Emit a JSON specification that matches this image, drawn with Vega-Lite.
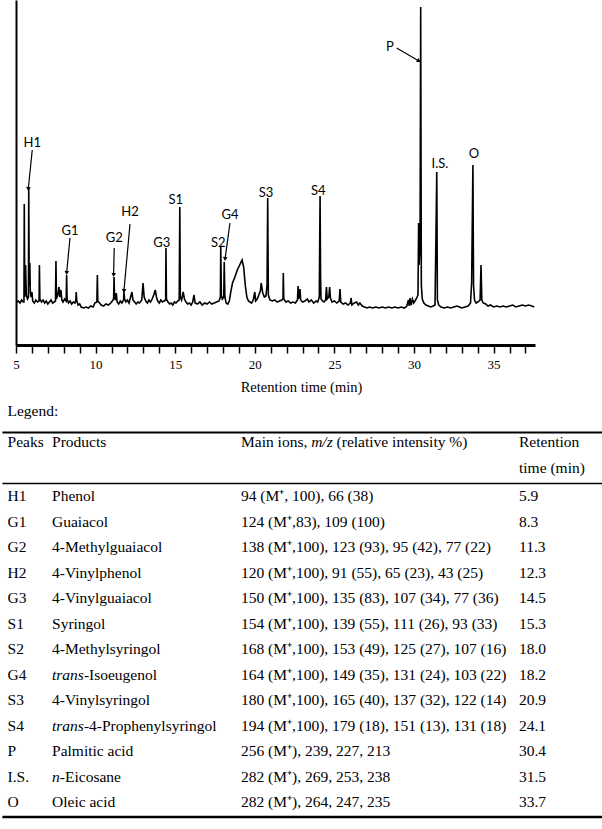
{
  "$schema": "https://vega.github.io/schema/vega-lite/v6.json",
  "padding": 0,
  "spacing": 9,
  "bounds": "full",
  "config": {"view": {"stroke": null}},
  "datasets": {
    "trace": [
      {"t":5.05,"v":3},{"t":5.15,"v":4},{"t":5.25,"v":2},{"t":5.35,"v":5},{"t":5.45,"v":3},{"t":5.50,"v":3},{"t":5.52,"v":101},{"t":5.55,"v":8},{"t":5.60,"v":40},{"t":5.65,"v":10},{"t":5.72,"v":6},{"t":5.78,"v":8},{"t":5.80,"v":117},{"t":5.83,"v":20},{"t":5.87,"v":42},{"t":5.90,"v":12},{"t":5.95,"v":8},{"t":6.00,"v":13},{"t":6.05,"v":4},{"t":6.15,"v":2},{"t":6.25,"v":5},{"t":6.35,"v":3},{"t":6.45,"v":4},{"t":6.47,"v":40},{"t":6.50,"v":6},{"t":6.60,"v":3},{"t":6.70,"v":5},{"t":6.80,"v":2},{"t":6.90,"v":4},{"t":7.00,"v":1},{"t":7.10,"v":3},{"t":7.20,"v":5},{"t":7.30,"v":2},{"t":7.40,"v":3},{"t":7.48,"v":4},{"t":7.51,"v":44},{"t":7.54,"v":6},{"t":7.62,"v":10},{"t":7.70,"v":18},{"t":7.75,"v":8},{"t":7.82,"v":15},{"t":7.88,"v":5},{"t":7.95,"v":3},{"t":8.05,"v":6},{"t":8.15,"v":4},{"t":8.18,"v":30},{"t":8.21,"v":6},{"t":8.30,"v":2},{"t":8.40,"v":4},{"t":8.50,"v":1},{"t":8.60,"v":3},{"t":8.70,"v":2},{"t":8.76,"v":5},{"t":8.78,"v":13},{"t":8.82,"v":4},{"t":8.90,"v":0},{"t":9.00,"v":1},{"t":9.10,"v":-2},{"t":9.25,"v":-3},{"t":9.40,"v":-2},{"t":9.55,"v":-3},{"t":9.70,"v":-1},{"t":9.85,"v":-2},{"t":9.95,"v":2},{"t":10.08,"v":3},{"t":10.11,"v":30},{"t":10.14,"v":4},{"t":10.25,"v":2},{"t":10.35,"v":0},{"t":10.50,"v":-1},{"t":10.65,"v":1},{"t":10.80,"v":0},{"t":10.95,"v":2},{"t":11.05,"v":4},{"t":11.13,"v":6},{"t":11.16,"v":28},{"t":11.19,"v":8},{"t":11.25,"v":5},{"t":11.30,"v":12},{"t":11.35,"v":3},{"t":11.45,"v":1},{"t":11.55,"v":4},{"t":11.65,"v":2},{"t":11.76,"v":5},{"t":11.78,"v":13},{"t":11.82,"v":6},{"t":11.90,"v":3},{"t":12.00,"v":5},{"t":12.10,"v":2},{"t":12.20,"v":8},{"t":12.28,"v":13},{"t":12.35,"v":5},{"t":12.45,"v":3},{"t":12.55,"v":1},{"t":12.65,"v":3},{"t":12.75,"v":2},{"t":12.90,"v":5},{"t":12.98,"v":22},{"t":13.05,"v":8},{"t":13.15,"v":4},{"t":13.25,"v":2},{"t":13.35,"v":5},{"t":13.45,"v":3},{"t":13.55,"v":6},{"t":13.65,"v":10},{"t":13.75,"v":15},{"t":13.82,"v":8},{"t":13.90,"v":4},{"t":14.00,"v":2},{"t":14.10,"v":5},{"t":14.20,"v":3},{"t":14.30,"v":4},{"t":14.40,"v":5},{"t":14.42,"v":57},{"t":14.45,"v":6},{"t":14.55,"v":3},{"t":14.65,"v":1},{"t":14.75,"v":2},{"t":14.85,"v":0},{"t":14.95,"v":3},{"t":15.05,"v":2},{"t":15.15,"v":4},{"t":15.25,"v":5},{"t":15.29,"v":98},{"t":15.32,"v":8},{"t":15.40,"v":5},{"t":15.50,"v":13},{"t":15.58,"v":6},{"t":15.68,"v":3},{"t":15.78,"v":1},{"t":15.90,"v":2},{"t":16.00,"v":0},{"t":16.10,"v":3},{"t":16.18,"v":10},{"t":16.25,"v":2},{"t":16.40,"v":1},{"t":16.55,"v":3},{"t":16.70,"v":0},{"t":16.85,"v":2},{"t":17.00,"v":1},{"t":17.15,"v":3},{"t":17.30,"v":1},{"t":17.45,"v":2},{"t":17.60,"v":3},{"t":17.75,"v":4},{"t":17.84,"v":8},{"t":17.86,"v":58},{"t":17.90,"v":10},{"t":17.96,"v":6},{"t":18.05,"v":8},{"t":18.08,"v":43},{"t":18.12,"v":8},{"t":18.20,"v":2},{"t":18.30,"v":1},{"t":18.40,"v":4},{"t":18.50,"v":14},{"t":18.60,"v":22},{"t":18.75,"v":28},{"t":18.90,"v":35},{"t":19.05,"v":40},{"t":19.20,"v":45},{"t":19.30,"v":38},{"t":19.40,"v":20},{"t":19.50,"v":8},{"t":19.60,"v":4},{"t":19.70,"v":3},{"t":19.80,"v":2},{"t":19.90,"v":5},{"t":20.00,"v":13},{"t":20.05,"v":4},{"t":20.15,"v":6},{"t":20.25,"v":10},{"t":20.35,"v":14},{"t":20.40,"v":22},{"t":20.50,"v":12},{"t":20.60,"v":8},{"t":20.70,"v":9},{"t":20.77,"v":20},{"t":20.81,"v":107},{"t":20.85,"v":10},{"t":20.95,"v":5},{"t":21.10,"v":4},{"t":21.25,"v":5},{"t":21.40,"v":3},{"t":21.55,"v":4},{"t":21.70,"v":5},{"t":21.77,"v":6},{"t":21.79,"v":32},{"t":21.82,"v":6},{"t":21.95,"v":3},{"t":22.10,"v":4},{"t":22.25,"v":2},{"t":22.40,"v":3},{"t":22.55,"v":2},{"t":22.68,"v":5},{"t":22.72,"v":19},{"t":22.76,"v":6},{"t":22.84,"v":16},{"t":22.88,"v":5},{"t":23.00,"v":3},{"t":23.15,"v":4},{"t":23.30,"v":6},{"t":23.40,"v":3},{"t":23.55,"v":5},{"t":23.70,"v":2},{"t":23.85,"v":4},{"t":23.95,"v":3},{"t":24.05,"v":8},{"t":24.10,"v":109},{"t":24.13,"v":30},{"t":24.16,"v":6},{"t":24.25,"v":4},{"t":24.35,"v":3},{"t":24.45,"v":5},{"t":24.50,"v":18},{"t":24.55,"v":6},{"t":24.65,"v":8},{"t":24.70,"v":18},{"t":24.75,"v":7},{"t":24.85,"v":3},{"t":25.00,"v":4},{"t":25.15,"v":2},{"t":25.30,"v":4},{"t":25.35,"v":16},{"t":25.40,"v":3},{"t":25.55,"v":1},{"t":25.70,"v":2},{"t":25.85,"v":0},{"t":26.00,"v":2},{"t":26.05,"v":7},{"t":26.10,"v":0},{"t":26.25,"v":2},{"t":26.40,"v":3},{"t":26.50,"v":0},{"t":26.60,"v":2},{"t":26.75,"v":-1},{"t":26.90,"v":-2},{"t":27.05,"v":-3},{"t":27.20,"v":-2},{"t":27.40,"v":-3},{"t":27.60,"v":-2},{"t":27.80,"v":-3},{"t":28.00,"v":-2},{"t":28.20,"v":-3},{"t":28.40,"v":-2},{"t":28.60,"v":-3},{"t":28.80,"v":-2},{"t":29.00,"v":-3},{"t":29.20,"v":-2},{"t":29.40,"v":-3},{"t":29.55,"v":-1},{"t":29.65,"v":5},{"t":29.70,"v":-1},{"t":29.75,"v":7},{"t":29.82,"v":0},{"t":29.90,"v":6},{"t":29.98,"v":2},{"t":30.10,"v":5},{"t":30.25,"v":10},{"t":30.29,"v":82},{"t":30.32,"v":40},{"t":30.38,"v":60},{"t":30.42,"v":298},{"t":30.46,"v":20},{"t":30.52,"v":6},{"t":30.62,"v":2},{"t":30.75,"v":0},{"t":30.90,"v":-1},{"t":31.05,"v":-2},{"t":31.20,"v":-1},{"t":31.32,"v":0},{"t":31.38,"v":70},{"t":31.43,"v":133},{"t":31.47,"v":5},{"t":31.55,"v":0},{"t":31.70,"v":-2},{"t":31.90,"v":-3},{"t":32.10,"v":-2},{"t":32.30,"v":-3},{"t":32.50,"v":-2},{"t":32.70,"v":-1},{"t":32.85,"v":-2},{"t":33.00,"v":-3},{"t":33.20,"v":-2},{"t":33.40,"v":-1},{"t":33.55,"v":2},{"t":33.62,"v":22},{"t":33.70,"v":140},{"t":33.74,"v":20},{"t":33.80,"v":5},{"t":33.90,"v":2},{"t":34.00,"v":3},{"t":34.15,"v":5},{"t":34.21,"v":40},{"t":34.26,"v":5},{"t":34.35,"v":2},{"t":34.50,"v":1},{"t":34.65,"v":-1},{"t":34.80,"v":0},{"t":35.00,"v":-2},{"t":35.20,"v":-1},{"t":35.40,"v":-2},{"t":35.60,"v":-1},{"t":35.80,"v":-2},{"t":36.00,"v":-1},{"t":36.20,"v":0},{"t":36.40,"v":-2},{"t":36.60,"v":-1},{"t":36.80,"v":0},{"t":37.00,"v":-1},{"t":37.20,"v":0},{"t":37.40,"v":-1},{"t":37.55,"v":-2}
    ],
    "labels": [
      {"label":"H1","t":6.02,"v":162},{"label":"G1","t":8.39,"v":74},{"label":"G2","t":11.17,"v":67},{"label":"H2","t":12.16,"v":93},{"label":"G3","t":14.15,"v":62},{"label":"S1","t":15.03,"v":105},{"label":"S2","t":17.71,"v":62},{"label":"G4","t":18.44,"v":90},{"label":"S3","t":20.70,"v":112},{"label":"S4","t":23.99,"v":114},{"label":"P","t":28.49,"v":258},{"label":"I.S.","t":31.63,"v":141},{"label":"O","t":33.77,"v":151}
    ],
    "arrows": [
      {"label":"H1","t":6.02,"v":155,"t2":5.77,"v2":116},{"label":"G1","t":8.39,"v":67,"t2":8.18,"v2":32},{"label":"G2","t":11.17,"v":57,"t2":11.13,"v2":30},{"label":"H2","t":12.16,"v":81,"t2":11.78,"v2":14},{"label":"G4","t":18.44,"v":82,"t2":18.13,"v2":46},{"label":"P","t":28.91,"v":257,"t2":30.31,"v2":244}
    ],
    "table": [
      {"peak":"H1","prefix":"","product":"Phenol","ions":"94 (M⁺, 100), 66 (38)","rt":5.9},
      {"peak":"G1","prefix":"","product":"Guaiacol","ions":"124 (M⁺,83), 109 (100)","rt":8.3},
      {"peak":"G2","prefix":"","product":"4-Methylguaiacol","ions":"138 (M⁺,100), 123 (93), 95 (42), 77 (22)","rt":11.3},
      {"peak":"H2","prefix":"","product":"4-Vinylphenol","ions":"120 (M⁺,100), 91 (55), 65 (23), 43 (25)","rt":12.3},
      {"peak":"G3","prefix":"","product":"4-Vinylguaiacol","ions":"150 (M⁺,100), 135 (83), 107 (34), 77 (36)","rt":14.5},
      {"peak":"S1","prefix":"","product":"Syringol","ions":"154 (M⁺,100), 139 (55), 111 (26), 93 (33)","rt":15.3},
      {"peak":"S2","prefix":"","product":"4-Methylsyringol","ions":"168 (M⁺,100), 153 (49), 125 (27), 107 (16)","rt":18.0},
      {"peak":"G4","prefix":"trans-","product":"Isoeugenol","ions":"164 (M⁺,100), 149 (35), 131 (24), 103 (22)","rt":18.2},
      {"peak":"S3","prefix":"","product":"4-Vinylsyringol","ions":"180 (M⁺,100), 165 (40), 137 (32), 122 (14)","rt":20.9},
      {"peak":"S4","prefix":"trans-","product":"4-Prophenylsyringol","ions":"194 (M⁺,100), 179 (18), 151 (13), 131 (18)","rt":24.1},
      {"peak":"P","prefix":"","product":"Palmitic acid","ions":"256 (M⁺), 239, 227, 213","rt":30.4},
      {"peak":"I.S.","prefix":"n-","product":"Eicosane","ions":"282 (M⁺), 269, 253, 238","rt":31.5},
      {"peak":"O","prefix":"","product":"Oleic acid","ions":"282 (M⁺), 264, 247, 235","rt":33.7}
    ]
  },
  "vconcat": [
    {
      "width": 519,
      "height": 345,
      "encoding": {
        "x": {"field": "t", "type": "quantitative",
          "scale": {"domain": [5, 37.6], "nice": false, "zero": false},
          "axis": {"values": [5,6,7,8,9,10,11,12,13,14,15,16,17,18,19,20,21,22,23,24,25,26,27,28,29,30,31,32,33,34,35,36,37],
            "labelExpr": "datum.value % 5 === 0 ? datum.label : ''",
            "grid": false, "domainColor": "black", "domainWidth": 3, "tickColor": "black", "tickWidth": 1.5, "tickSize": 8,
            "labelFont": "Liberation Serif", "labelFontSize": 13, "labelColor": "black", "labelPadding": 5, "labelFlush": false, "labelOverlap": false,
            "title": "Retention time (min)", "titleFont": "Liberation Serif", "titleFontSize": 14.5, "titleFontWeight": "normal", "titleColor": "black",
            "titleX": 285, "titleY": 46, "titleBaseline": "alphabetic"}},
        "y": {"field": "v", "type": "quantitative",
          "scale": {"domain": [-40, 305], "nice": false, "zero": false},
          "axis": {"domain": true, "domainColor": "black", "domainWidth": 2, "ticks": false, "labels": false, "grid": false, "title": null, "minExtent": 16, "maxExtent": 16}}
      },
      "layer": [
        {"data": {"name": "trace"}, "mark": {"type": "line", "color": "black", "strokeWidth": 1.6}},
        {"data": {"name": "labels"}, "mark": {"type": "text", "font": "Lato", "fontSize": 13, "color": "black", "align": "center", "baseline": "middle"}, "encoding": {"text": {"field": "label"}}},
        {"data": {"name": "arrows"}, "mark": {"type": "rule", "color": "black", "strokeWidth": 1.2}, "encoding": {"x2": {"field": "t2"}, "y2": {"field": "v2"}}},
        {"data": {"name": "arrows"}, "transform": [{"filter": "datum.label !== 'P'"}], "mark": {"type": "point", "shape": "triangle-down", "filled": true, "color": "black", "size": 22, "opacity": 1, "angle": 6}, "encoding": {"x": {"field": "t2", "type": "quantitative"}, "y": {"field": "v2", "type": "quantitative"}}},
        {"data": {"name": "arrows"}, "transform": [{"filter": "datum.label === 'P'"}], "mark": {"type": "point", "shape": "triangle-down", "filled": true, "color": "black", "size": 22, "opacity": 1, "angle": -60}, "encoding": {"x": {"field": "t2", "type": "quantitative"}, "y": {"field": "v2", "type": "quantitative"}}}
      ]
    },
    {
      "width": 586,
      "height": 408,
      "data": {"name": "table"},
      "encoding": {
        "y": {"field": "peak", "type": "nominal", "axis": null,
          "scale": {"type": "band", "paddingInner": 0, "paddingOuter": 0,
            "domain": ["legend", "h1", "h2", "H1", "G1", "G2", "H2", "G3", "S1", "S2", "G4", "S3", "S4", "P", "I.S.", "O"]}}
      },
      "layer": [
        {"data": {"values": [{}]}, "mark": {"type": "rule", "color": "black", "strokeWidth": 2}, "encoding": {"x": {"datum": 0.4, "scale": {"domain": [0, 100], "range": [-16, 586], "nice": false, "zero": false}, "axis": null}, "x2": {"datum": 100}, "y": {"datum": "h1", "bandPosition": 0}}},
        {"data": {"values": [{}]}, "mark": {"type": "rule", "color": "black", "strokeWidth": 1.6}, "encoding": {"x": {"datum": 0.4, "axis": null}, "x2": {"datum": 100}, "y": {"datum": "H1", "bandPosition": 0}}},
        {"data": {"values": [{}]}, "mark": {"type": "rule", "color": "black", "strokeWidth": 2.5, "yOffset": 2}, "encoding": {"x": {"datum": 0.4, "axis": null}, "x2": {"datum": 100}, "y": {"datum": "O", "bandPosition": 1}}},
        {"data": {"values": [{}]}, "mark": {"type": "text", "text": "Legend:", "font": "Liberation Serif", "fontSize": 15.5, "color": "black", "align": "left", "baseline": "middle", "dy": -9}, "encoding": {"x": {"datum": 1.25, "axis": null}, "y": {"datum": "legend"}}},
        {"data": {"values": [{}]}, "mark": {"type": "text", "text": "Peaks", "font": "Liberation Serif", "fontSize": 15.5, "color": "black", "align": "left", "baseline": "middle", "dy": -3.5}, "encoding": {"x": {"datum": 1.25, "axis": null}, "y": {"datum": "h1"}}},
        {"data": {"values": [{}]}, "mark": {"type": "text", "text": "Products", "font": "Liberation Serif", "fontSize": 15.5, "color": "black", "align": "left", "baseline": "middle", "dy": -3.5}, "encoding": {"x": {"datum": 8.64, "axis": null}, "y": {"datum": "h1"}}},
        {"data": {"values": [{}]}, "mark": {"type": "text", "text": "Main ions,", "font": "Liberation Serif", "fontSize": 15.5, "color": "black", "align": "left", "baseline": "middle", "dy": -3.5}, "encoding": {"x": {"datum": 40.03, "axis": null}, "y": {"datum": "h1"}}},
        {"data": {"values": [{}]}, "mark": {"type": "text", "text": "m/z", "font": "Liberation Serif", "fontStyle": "italic", "fontSize": 15.5, "color": "black", "align": "left", "baseline": "middle", "dy": -3.5, "dx": 70.2}, "encoding": {"x": {"datum": 40.03, "axis": null}, "y": {"datum": "h1"}}},
        {"data": {"values": [{}]}, "mark": {"type": "text", "text": "(relative intensity %)", "font": "Liberation Serif", "fontSize": 15.5, "color": "black", "align": "left", "baseline": "middle", "dy": -3.5, "dx": 95.6}, "encoding": {"x": {"datum": 40.03, "axis": null}, "y": {"datum": "h1"}}},
        {"data": {"values": [{}]}, "mark": {"type": "text", "text": "Retention", "font": "Liberation Serif", "fontSize": 15.5, "color": "black", "align": "left", "baseline": "middle", "dy": -3.5}, "encoding": {"x": {"datum": 86.21, "axis": null}, "y": {"datum": "h1"}}},
        {"data": {"values": [{}]}, "mark": {"type": "text", "text": "time (min)", "font": "Liberation Serif", "fontSize": 15.5, "color": "black", "align": "left", "baseline": "middle", "dy": -3}, "encoding": {"x": {"datum": 86.21, "axis": null}, "y": {"datum": "h2"}}},
        {"mark": {"type": "text", "font": "Liberation Serif", "fontSize": 15.5, "color": "black", "align": "left", "baseline": "middle"}, "encoding": {"x": {"datum": 1.25, "axis": null}, "text": {"field": "peak"}}},
        {"transform": [{"filter": "datum.prefix === ''"}], "mark": {"type": "text", "font": "Liberation Serif", "fontSize": 15.5, "color": "black", "align": "left", "baseline": "middle"}, "encoding": {"x": {"datum": 8.64, "axis": null}, "text": {"field": "product"}}},
        {"transform": [{"filter": "datum.prefix !== ''"}], "mark": {"type": "text", "font": "Liberation Serif", "fontStyle": "italic", "fontSize": 15.5, "color": "black", "align": "left", "baseline": "middle"}, "encoding": {"x": {"datum": 8.64, "axis": null}, "text": {"field": "prefix"}}},
        {"transform": [{"filter": "datum.prefix === 'trans-'"}], "mark": {"type": "text", "font": "Liberation Serif", "fontSize": 15.5, "color": "black", "align": "left", "baseline": "middle", "dx": 37}, "encoding": {"x": {"datum": 8.64, "axis": null}, "text": {"field": "product"}}},
        {"transform": [{"filter": "datum.prefix === 'n-'"}], "mark": {"type": "text", "font": "Liberation Serif", "fontSize": 15.5, "color": "black", "align": "left", "baseline": "middle", "dx": 13}, "encoding": {"x": {"datum": 8.64, "axis": null}, "text": {"field": "product"}}},
        {"mark": {"type": "text", "font": "Liberation Serif", "fontSize": 15.5, "color": "black", "align": "left", "baseline": "middle"}, "encoding": {"x": {"datum": 40.03, "axis": null}, "text": {"field": "ions"}}},
        {"mark": {"type": "text", "font": "Liberation Serif", "fontSize": 15.5, "color": "black", "align": "left", "baseline": "middle"}, "encoding": {"x": {"datum": 86.21, "axis": null}, "text": {"field": "rt", "format": ".1f"}}}
      ]
    }
  ]
}
